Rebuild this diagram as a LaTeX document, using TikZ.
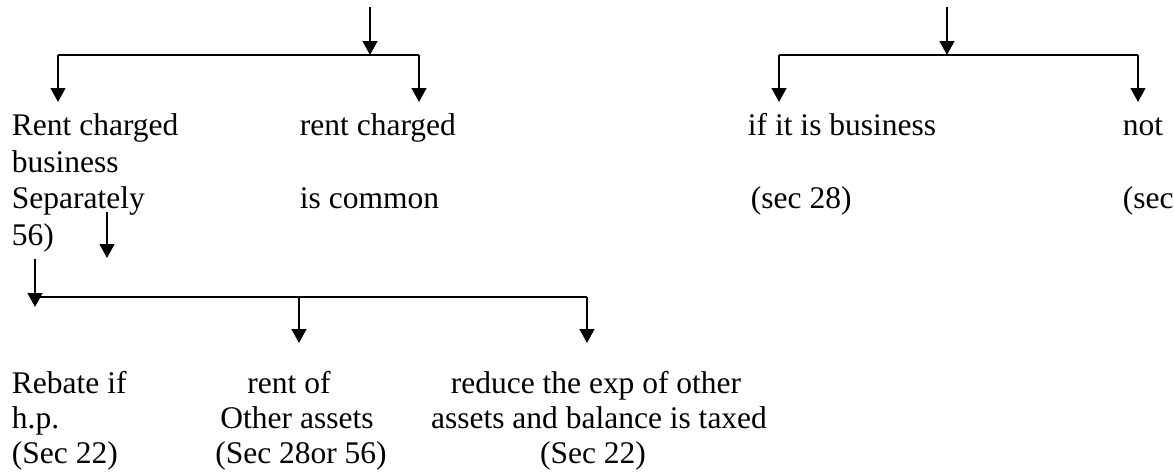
\documentclass[tikz,border=0pt]{standalone}
\usepackage{fontspec}
\setmainfont{Liberation Serif}
\usetikzlibrary{arrows.meta}

\begin{document}
\begin{tikzpicture}[x=0.381pt, y=-0.381pt, line width=0.75pt, >={Triangle[length=5.3pt,width=5.6pt]},
  txt/.style={anchor=base west, inner sep=0pt, font=\fontsize{12}{14}\selectfont},
  ctxt/.style={anchor=base, inner sep=0pt, font=\fontsize{12}{14}\selectfont}]
\useasboundingbox (0,0) rectangle (1174,474);
% Left split
\coordinate (ltop) at (370,7);
\coordinate (lsplit) at (370,55);
\coordinate (lleft) at (58,55);
\coordinate (lright) at (419,55);
\coordinate (lleftend) at (58,102);
\coordinate (lrightend) at (419,102);
\draw[->] (ltop) -- (lsplit);
\draw (lleft) -- (lright);
\draw[->] (lleft) -- (lleftend);
\draw[->] (lright) -- (lrightend);
% Right split
\coordinate (rtop) at (947,7);
\coordinate (rsplit) at (947,55);
\coordinate (rleft) at (779,55);
\coordinate (rright) at (1138,55);
\coordinate (rleftend) at (779,102);
\coordinate (rrightend) at (1138,102);
\draw[->] (rtop) -- (rsplit);
\draw (rleft) -- (rright);
\draw[->] (rleft) -- (rleftend);
\draw[->] (rright) -- (rrightend);
% First row of text
\node[txt] (sepa) at (11,135) {Rent charged};
\node[txt] (sepb) at (11,172) {business};
\node[txt] (sepc) at (11,208) {Separately};
\node[txt] (sepd) at (11,245) {56)};
\node[txt] (coma) at (299,135) {rent charged};
\node[txt] (comb) at (299,208) {is common};
\node[txt] (busa) at (747,135) {if it is business};
\node[txt] (busb) at (750,208) {(sec 28)};
\node[txt] (nota) at (1122,135) {not};
\node[txt] (notb) at (1122,208) {(sec};
% Second split
\coordinate (stop) at (107,212);
\coordinate (send) at (107,258);
\coordinate (btop) at (35,259);
\coordinate (bend) at (35,307);
\coordinate (bleft) at (35,297);
\coordinate (bmid) at (299,297);
\coordinate (bright) at (587,297);
\coordinate (bmidend) at (299,343);
\coordinate (brightend) at (587,343);
\draw[->] (stop) -- (send);
\draw[->] (btop) -- (bend);
\draw (bleft) -- (bright);
\draw[->] (bmid) -- (bmidend);
\draw[->] (bright) -- (brightend);
% Bottom row of text
\node[txt] (reba) at (11,393) {Rebate if};
\node[txt] (rebb) at (11,428) {h.p.};
\node[txt] (rebc) at (11,463) {(Sec 22)};
\node[ctxt] (otha) at (289,393) {rent of};
\node[ctxt] (othb) at (297,428) {Other assets};
\node[ctxt] (othc) at (301,463) {(Sec 28or 56)};
\node[ctxt] (reda) at (596,393) {reduce the exp of other};
\node[ctxt] (redb) at (599,428) {assets and balance is taxed};
\node[ctxt] (redc) at (593,463) {(Sec 22)};
\end{tikzpicture}
\end{document}
